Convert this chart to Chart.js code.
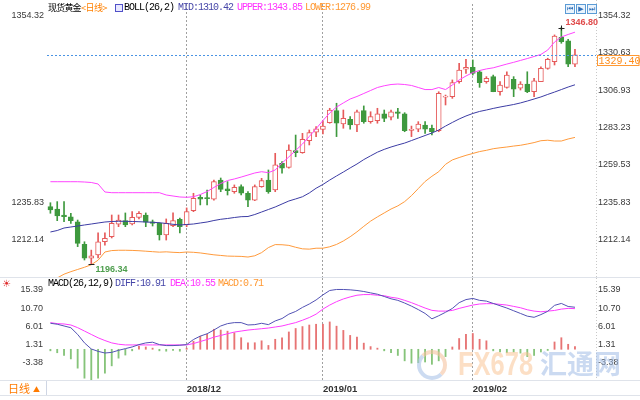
<!DOCTYPE html>
<html><head><meta charset="utf-8">
<script src="https://cdn.jsdelivr.net/npm/chart.js@4.4.1/dist/chart.umd.min.js"></script>
<style>
html,body{margin:0;padding:0;background:#fff;}
#wrap{position:relative;width:640px;height:400px;overflow:hidden;background:#fff;}
canvas{position:absolute;left:0;}
.t{position:absolute;white-space:pre;line-height:12px;}
.mono{font-family:"Liberation Mono","DejaVu Sans Mono",monospace;font-size:10px;letter-spacing:-1px;}
.cjk{font-family:"Noto Sans CJK SC",sans-serif;}
.hl{position:absolute;left:0;width:640px;height:1px;background:#dfe3ea;}
.ib{position:absolute;top:4px;width:8px;height:8px;border:1px solid #5b9bd5;background:#eaf3fc;font-size:7px;line-height:8px;text-align:center;color:#2f6fb8;font-family:"DejaVu Sans",sans-serif;}
</style></head><body>
<div id="wrap">
<canvas id="main" width="640" height="277" style="top:0"></canvas>
<canvas id="macd" width="640" height="122" style="top:278px"></canvas>
<div class="hl" style="top:277px"></div>
<div class="hl" style="top:380px"></div>
<div class="hl" style="top:395px"></div>

<div class="t cjk" style="top:1px;left:48px;font-size:9px;letter-spacing:-0.8px;line-height:13px;color:#000">现货黄金</div>
<div class="t cjk" style="top:1px;left:81px;font-size:9px;letter-spacing:-0.5px;line-height:13px;color:#ff8000">&lt;日线&gt;</div>
<div style="position:absolute;left:115px;top:4px;width:6px;height:6px;border:1px solid #5050c8;background:#e8e8ff"></div>
<div class="t mono" style="top:2px;left:124px;color:#000">BOLL(26,2)</div>
<div class="t mono" id="hMid" style="top:2px;left:178px;color:#4646a8"></div>
<div class="t mono" id="hUp" style="top:2px;left:237px;color:#ff33ff"></div>
<div class="t mono" id="hLow" style="top:2px;left:305px;color:#ff9933"></div>

<div class="ib" style="left:565px">⏮</div>
<div class="ib" style="left:576px">▶</div>
<div class="ib" style="left:587px">⏭</div>

<div class="t" style="top:278px;left:2px;font-size:10px;color:#e03030;font-family:'DejaVu Sans'">☀</div>
<div class="t mono" style="top:278px;left:48px;color:#000">MACD(26,12,9)</div>
<div class="t mono" id="hDiff" style="top:278px;left:115px;color:#4646a8"></div>
<div class="t mono" id="hDea" style="top:278px;left:170px;color:#ff33ff"></div>
<div class="t mono" id="hMacd" style="top:278px;left:218px;color:#ff9933"></div>

<div style="position:absolute;left:0;top:381px;width:46px;height:14px;border-right:1px solid #cfd6e4;"></div>
<div class="t cjk" style="top:381px;left:8px;font-size:11px;line-height:14px;color:#ff7a00">日线<span style="font-size:7px;position:relative;top:-1px;margin-left:3px">▲</span></div>

<div style="position:absolute;left:417px;top:350px;width:22px;height:22px;border-radius:50%;border:4px solid rgba(246,196,160,0.6);border-left-color:rgba(170,196,232,0.6);border-bottom-color:rgba(170,196,232,0.6)"></div>
<div class="t" style="top:343px;left:458px;font:bold 34px 'Liberation Sans',Arial,sans-serif;line-height:40px;color:rgba(250,196,150,0.55);transform:scaleX(0.75);transform-origin:left top">FX678</div>
<div class="t cjk" style="top:344px;left:540px;font-size:27px;font-weight:bold;line-height:38px;color:rgba(160,188,230,0.55)">汇通网</div>
</div>
<script>
const dates = ['2018/11/05','2018/11/06','2018/11/07','2018/11/08','2018/11/09','2018/11/12','2018/11/13','2018/11/14','2018/11/15','2018/11/16','2018/11/19','2018/11/20','2018/11/21','2018/11/22','2018/11/23','2018/11/26','2018/11/27','2018/11/28','2018/11/29','2018/11/30',
'2018/12/03','2018/12/04','2018/12/05','2018/12/06','2018/12/07','2018/12/10','2018/12/11','2018/12/12','2018/12/13','2018/12/14','2018/12/17','2018/12/18','2018/12/19','2018/12/20','2018/12/21','2018/12/24','2018/12/26','2018/12/27','2018/12/28','2018/12/31',
'2019/01/02','2019/01/03','2019/01/04','2019/01/07','2019/01/08','2019/01/09','2019/01/10','2019/01/11','2019/01/14','2019/01/15','2019/01/16','2019/01/17','2019/01/18','2019/01/21','2019/01/22','2019/01/23','2019/01/24','2019/01/25','2019/01/28','2019/01/29','2019/01/30','2019/01/31',
'2019/02/01','2019/02/04','2019/02/05','2019/02/06','2019/02/07','2019/02/08','2019/02/11','2019/02/12','2019/02/13','2019/02/14','2019/02/15','2019/02/18','2019/02/19','2019/02/20','2019/02/21','2019/02/22'];
const emptySlots = ['', ''];

const opens  = [1233.0,1231.5,1227.7,1226.6,1223.4,1209.1,1200.2,1202.3,1210.7,1213.9,1221.8,1224.1,1222.0,1226.2,1227.7,1223.4,1222.4,1215.0,1220.9,1225.0,
1221.4,1230.4,1238.9,1238.5,1237.7,1249.9,1244.4,1242.5,1245.7,1241.5,1237.2,1245.7,1249.9,1243.6,1260.5,1258.0,1268.6,1267.3,1274.9,1280.3,
1282.0,1286.3,1294.0,1285.5,1288.5,1284.9,1294.0,1287.0,1287.6,1291.9,1289.8,1293.3,1291.9,1281.5,1282.2,1284.9,1282.8,1281.3,1302.5,1302.9,1312.4,1320.3,
1321.5,1318.7,1312.4,1315.6,1306.0,1308.8,1313.9,1308.2,1310.9,1306.0,1312.4,1320.9,1325.1,1340.6,1338.4,1323.6];
const highs  = [1235.5,1236.2,1236.2,1228.8,1224.5,1210.7,1205.4,1216.3,1216.3,1227.7,1227.7,1229.0,1229.8,1229.8,1229.0,1224.5,1222.8,1225.2,1229.0,1225.8,
1232.2,1241.5,1240.4,1243.6,1249.9,1251.2,1248.9,1246.8,1246.8,1242.5,1246.8,1251.0,1256.3,1266.9,1261.6,1272.2,1278.5,1279.6,1281.7,1283.8,
1287.6,1295.5,1298.7,1294.4,1290.2,1294.4,1297.0,1293.3,1295.5,1294.4,1294.4,1295.5,1292.7,1284.2,1287.0,1287.0,1284.9,1306.0,1303.9,1313.5,1324.1,1326.6,
1326.2,1319.4,1315.6,1316.6,1312.4,1318.7,1315.6,1312.4,1318.7,1314.6,1321.9,1327.3,1342.1,1346.80,1339.3,1333.0];
const lows   = [1228.8,1224.1,1223.5,1222.4,1207.6,1199.1,1196.34,1200.4,1208.6,1213.1,1220.3,1220.3,1221.4,1225.2,1220.3,1220.7,1211.8,1211.8,1220.3,1216.3,
1220.3,1229.8,1234.1,1234.1,1237.2,1242.5,1240.4,1241.5,1240.4,1233.0,1236.8,1245.3,1241.5,1242.5,1254.2,1257.4,1264.7,1266.9,1272.2,1277.5,
1279.2,1286.0,1277.5,1282.8,1282.2,1280.6,1286.0,1286.0,1286.0,1287.0,1288.1,1289.1,1280.6,1277.5,1280.6,1279.6,1278.5,1280.6,1297.6,1301.8,1311.4,1317.7,
1316.6,1308.8,1311.4,1306.0,1303.9,1308.2,1302.9,1307.1,1305.4,1302.9,1312.4,1320.3,1323.0,1336.8,1321.9,1321.9];
const closes = [1230.9,1227.1,1226.6,1224.1,1209.7,1200.2,1201.7,1210.7,1212.9,1222.4,1224.5,1221.4,1226.2,1228.8,1223.1,1222.4,1215.0,1222.4,1224.1,1220.3,
1229.8,1238.3,1237.7,1238.1,1248.9,1244.0,1243.1,1245.3,1241.5,1237.2,1245.7,1249.5,1242.5,1259.5,1257.4,1269.0,1267.3,1275.8,1280.0,1282.5,
1284.2,1294.4,1286.0,1289.1,1284.9,1293.3,1287.0,1290.2,1291.9,1289.1,1293.3,1292.3,1281.3,1282.2,1285.5,1282.2,1280.6,1305.0,1303.3,1311.8,1319.8,1321.5,
1317.7,1311.8,1314.6,1306.0,1310.3,1316.6,1307.6,1310.9,1306.0,1313.0,1320.9,1326.6,1341.4,1337.8,1323.6,1329.40];

const bollUpper = [1248.85,1248.85,1248.85,1248.85,1248.85,1248.66,1248.35,1247.4,1242.31,1241.87,1241.87,1241.87,1241.87,1241.87,1241.87,1241.87,1241.87,1240.41,1239.77,1239.14,
1238.95,1239.3,1240.7,1242.6,1245.2,1247.7,1249.6,1250.6,1251.8,1253.1,1254.4,1255.2,1254.6,1256.3,1260.7,1264.6,1268.7,1272.8,1277.6,1282.5,
1287.7,1292.5,1296.3,1298.9,1301.4,1303.0,1304.9,1306.8,1308.7,1309.8,1310.6,1310.9,1310.6,1310.0,1308.7,1307.4,1307.4,1308.7,1307.4,1310.3,1313.5,1316.0,
1318.2,1319.5,1320.5,1321.2,1322.4,1323.6,1324.7,1325.9,1327.1,1328.4,1329.7,1332.5,1337.6,1340.8,1342.4,1343.85];
const bollMid = [1216.9,1217.85,1219.44,1220.08,1220.71,1221.35,1221.98,1222.62,1223.25,1223.57,1223.7,1223.7,1223.57,1223.44,1223.25,1223.06,1222.81,1222.3,1221.79,1221.35,
1221.67,1221.98,1222.62,1223.25,1224.2,1224.97,1225.48,1226.11,1226.62,1226.75,1228.0,1229.6,1231.2,1232.8,1234.7,1236.6,1237.9,1239.3,1241.7,1244.7,
1247.1,1249.9,1252.5,1255.0,1257.6,1260.1,1262.9,1265.3,1267.6,1269.4,1270.9,1272.2,1273.4,1275.0,1276.6,1278.2,1279.8,1281.7,1284.2,1286.5,1288.7,1290.6,
1292.2,1293.5,1294.4,1295.4,1296.3,1297.1,1297.9,1298.9,1300.1,1301.4,1302.7,1304.3,1305.8,1307.4,1309.0,1310.42];
const bollLower = [1186.0,1187.7,1190.1,1191.7,1193.1,1194.5,1196.1,1199.0,1204.2,1205.1,1205.3,1205.3,1205.2,1205.0,1204.7,1204.4,1204.1,1204.3,1204.0,1203.8,
1204.2,1204.0,1203.6,1203.0,1202.4,1202.0,1201.6,1201.5,1201.4,1201.0,1201.8,1203.8,1207.0,1208.9,1208.8,1208.4,1207.2,1206.2,1206.0,1206.6,
1206.6,1207.5,1209.0,1211.2,1213.9,1217.0,1220.5,1223.8,1226.5,1229.0,1231.5,1233.5,1236.2,1240.0,1244.5,1249.0,1252.3,1255.2,1259.9,1262.7,1264.2,1265.6,
1266.8,1268.0,1268.8,1269.8,1270.4,1270.9,1271.5,1272.0,1272.8,1273.7,1274.9,1275.2,1274.7,1274.7,1276.0,1276.99];

const macdDiff = [6.75,6.5,6.05,5.6,3.85,1.66,0.08,-0.53,-0.97,-0.8,-0.27,0.17,0.61,1.22,1.66,1.84,1.22,0.96,0.96,1.05,
1.22,2.54,3.42,4.03,5.0,6.05,6.66,6.92,6.92,6.31,6.4,6.75,6.4,7.36,7.98,9.12,9.82,10.87,11.75,12.8,
14.12,15.26,15.52,15.52,15.43,15.26,15.0,14.64,14.29,13.7,13.1,12.7,12.0,11.2,10.3,9.3,7.9,8.7,9.6,10.6,12.1,12.9,
13.2,12.7,12.5,11.9,11.3,10.7,10.0,9.3,8.6,8.3,9.0,9.85,11.4,11.9,11.1,10.91];
const macdDea = [6.92,6.66,6.57,6.31,5.61,4.73,3.85,2.98,2.27,1.66,1.31,1.13,1.13,1.13,1.13,1.13,1.13,1.13,1.13,1.13,
1.13,1.49,2.01,2.54,3.15,3.59,4.03,4.47,4.73,4.99,5.17,5.34,5.52,5.78,6.05,6.49,6.92,7.54,8.24,9.12,
10.43,11.48,12.36,13.06,13.59,14.03,14.2,14.2,14.03,13.9,13.5,13.24,12.7,12.1,11.4,10.7,10.1,9.91,9.91,10.08,10.61,11.05,
11.48,11.75,11.84,11.84,11.66,11.48,11.13,10.78,10.26,9.91,9.73,9.9,10.08,10.43,10.61,10.55];
const macdHist = [-0.4,-0.9,-1.6,-2.5,-4.9,-7.5,-7.9,-7.5,-6.2,-4.3,-2.3,-1.5,-0.4,0.8,0.6,0.3,-0.4,-0.5,-0.3,-0.5,
0.3,2.1,3.4,3.9,5.2,5.0,4.7,4.3,3.0,1.7,1.7,2.2,1.0,2.6,3.0,4.5,5.4,5.9,6.3,6.5,
6.5,7.1,6.0,4.9,3.6,3.2,1.6,0.7,0.3,-0.4,-0.9,-1.6,-3.0,-3.6,-3.5,-3.3,-3.9,-3.0,-1.9,0.6,2.8,3.9,
4.1,2.6,2.2,-0.4,-0.7,-0.9,-0.7,-1.0,-1.9,-1.6,-0.7,-0.3,1.9,3.0,1.3,0.71];

const priceTicksRight = [1354.32,1330.63,1306.93,1283.23,1259.53,1235.83,1212.14];
const priceTicksLeft  = [1354.32,1235.83,1212.14];
const macdTicks = [15.39,10.70,6.01,1.31,-3.38];

// ---------- config ----------
const labels = dates.concat(emptySlots);
const last = closes.length - 1;
const isUp = i => closes[i] >= opens[i];
const RED = '#e65a5a', GREEN = '#3e993e';
const monthStart = labels.map((d, i) => i > 0 && d && labels[i-1] && d.slice(0,7) !== labels[i-1].slice(0,7));
const gridColor = c => monthStart[c.index] ? '#a0a0a0' : 'rgba(0,0,0,0)';
const tickFont = {family:'"Liberation Sans", Arial, sans-serif', size:9};
const fixW = w => s => { s.width = w; s.paddingTop = 0; s.paddingBottom = 0; s.paddingLeft = 0; s.paddingRight = 0; };
const fixH = h => s => { s.height = h; s.paddingTop = 0; s.paddingBottom = 0; s.paddingLeft = 0; s.paddingRight = 0; };
const setTicks = arr => s => { s.ticks = arr.map(v => ({value: v})); };
const noGrid = {display:false, drawTicks:false, tickLength:0};

document.getElementById('hMid').textContent = 'MID:' + bollMid[last].toFixed(2);
document.getElementById('hUp').textContent = 'UPPER:' + bollUpper[last].toFixed(2);
document.getElementById('hLow').textContent = 'LOWER:' + bollLower[last].toFixed(2);
document.getElementById('hDiff').textContent = 'DIFF:' + macdDiff[last].toFixed(2);
document.getElementById('hDea').textContent = 'DEA:' + macdDea[last].toFixed(2);
document.getElementById('hMacd').textContent = 'MACD:' + macdHist[last].toFixed(2);

const lineDs = (data, color) => ({type:'line', data, borderColor:color, borderWidth:1, pointRadius:0, tension:0, order:0, yAxisID:'y', xAxisID:'x'});

const mainAnnot = {
  id:'mainAnnot',
  afterDatasetsDraw(chart){
    const {ctx, chartArea:ca, scales:{x, y}} = chart;
    ctx.save();
    const ly = Math.round(y.getPixelForValue(closes[last])) + 0.5;
    ctx.lineWidth = 1;
    ctx.strokeStyle = '#4a94e4'; ctx.setLineDash([2,2]);
    ctx.beginPath(); ctx.moveTo(ca.left, ly); ctx.lineTo(ca.right + 4, ly); ctx.stroke();
    ctx.strokeStyle = '#c8c8c8'; ctx.setLineDash([1,2]);
    const rb = Math.round(ca.right + 4) + 0.5;
    ctx.beginPath(); ctx.moveTo(rb, 0); ctx.lineTo(rb, chart.height); ctx.stroke();
    ctx.setLineDash([]);
    // last price box
    const bx = Math.round(ca.right + 5) + 0.5;
    ctx.fillStyle = '#fff'; ctx.fillRect(bx, ly, 639 - bx, 10);
    ctx.strokeStyle = '#ff9933'; ctx.strokeRect(bx, ly, 639 - bx, 10);
    ctx.fillStyle = '#ff8c1a'; ctx.font = '10px "Liberation Mono", monospace';
    ctx.textBaseline = 'middle'; ctx.textAlign = 'left';
    ctx.fillText(closes[last].toFixed(2), bx + 1, ly + 5.5);
    // highest high
    const hi = highs.indexOf(Math.max(...highs));
    const hx = Math.round(x.getPixelForValue(hi)) + 0.5, hy = Math.round(y.getPixelForValue(highs[hi])) + 0.5;
    ctx.strokeStyle = '#222';
    ctx.beginPath(); ctx.moveTo(hx - 3, hy); ctx.lineTo(hx + 3, hy); ctx.moveTo(hx, hy - 3); ctx.lineTo(hx, hy + 2); ctx.stroke();
    ctx.fillStyle = '#e04a4a'; ctx.font = 'bold 9px "Liberation Sans", Arial, sans-serif';
    ctx.fillText(highs[hi].toFixed(2), hx + 4, hy - 6);
    // lowest low
    const lo = lows.indexOf(Math.min(...lows));
    const lx = Math.round(x.getPixelForValue(lo)) + 0.5, lyy = Math.round(y.getPixelForValue(lows[lo])) + 0.5;
    ctx.beginPath(); ctx.moveTo(lx - 3, lyy); ctx.lineTo(lx + 3, lyy); ctx.stroke();
    ctx.fillStyle = '#4e9e4e';
    ctx.fillText(lows[lo].toFixed(2), lx + 4, lyy + 5);
    ctx.restore();
  }
};

new Chart(document.getElementById('main'), {
  type:'bar',
  data:{ labels, datasets:[
    lineDs(bollUpper, '#ff44ff'),
    lineDs(bollMid, '#3c3ca4'),
    lineDs(bollLower, '#ff9a3c'),
    {label:'body', data: opens.map((o, i) => [o, closes[i]]), yAxisID:'y', xAxisID:'x',
     backgroundColor: c => isUp(c.dataIndex) ? '#ffffff' : GREEN,
     borderColor: c => isUp(c.dataIndex) ? RED : GREEN,
     borderWidth:1, borderSkipped:false, barThickness:5, minBarLength:1, grouped:false, order:1},
    {label:'wick', data: lows.map((l, i) => [l, highs[i]]), yAxisID:'y', xAxisID:'x',
     backgroundColor: c => isUp(c.dataIndex) ? RED : GREEN,
     borderWidth:0, barThickness:1, grouped:false, order:2}
  ]},
  options:{
    responsive:false, animation:false, devicePixelRatio:1,
    layout:{padding:{top:4, left:0, right:0, bottom:0}, autoPadding:false},
    plugins:{legend:{display:false}, tooltip:{enabled:false}},
    scales:{
      x:{type:'category', offset:true,
         grid:{offset:false, color:gridColor, lineWidth:1, drawTicks:false},
         border:{display:false, dash:[2,2]},
         ticks:{display:false, autoSkip:false}, afterFit:fixH(0)},
      y:{position:'right', min:1188.31, max:1361.75, afterBuildTicks:setTicks(priceTicksRight),
         ticks:{callback:v => v.toFixed(2), font:tickFont, color:'#3a3a3a', padding:6},
         grid:noGrid, border:{display:false}, afterFit:fixW(48)},
      yL:{position:'left', min:1188.31, max:1361.75, afterBuildTicks:setTicks(priceTicksLeft),
         ticks:{callback:v => v.toFixed(2), font:tickFont, color:'#3a3a3a', padding:3},
         grid:noGrid, border:{display:false}, afterFit:fixW(47)}
    }
  },
  plugins:[mainAnnot]
});

const macdAnnot = {
  id:'macdAnnot',
  afterDatasetsDraw(chart){
    const {ctx, chartArea:ca} = chart;
    ctx.save();
    ctx.strokeStyle = '#c8c8c8'; ctx.setLineDash([1,2]); ctx.lineWidth = 1;
    const rb = Math.round(ca.right + 4) + 0.5;
    ctx.beginPath(); ctx.moveTo(rb, 0); ctx.lineTo(rb, ca.bottom); ctx.stroke();
    ctx.restore();
  }
};

new Chart(document.getElementById('macd'), {
  type:'bar',
  data:{ labels, datasets:[
    {type:'line', data:macdDiff, borderColor:'#5252b4', borderWidth:1, pointRadius:0, tension:0, order:0},
    {type:'line', data:macdDea, borderColor:'#ff3cff', borderWidth:1, pointRadius:0, tension:0, order:0},
    {data:macdHist, backgroundColor: c => macdHist[c.dataIndex] >= 0 ? '#e77474' : '#86c47a',
     borderWidth:0, barThickness:1.2, order:1}
  ]},
  options:{
    responsive:false, animation:false, devicePixelRatio:1,
    layout:{padding:0, autoPadding:false},
    plugins:{legend:{display:false}, tooltip:{enabled:false}},
    scales:{
      x:{type:'category', offset:true,
         grid:{offset:false, color:gridColor, lineWidth:1, drawTicks:false},
         border:{display:false, dash:[2,2]},
         ticks:{autoSkip:false, maxRotation:0, minRotation:0, align:'start', padding:4, color:'#333',
                font:{family:'"Liberation Sans", Arial, sans-serif', size:9.5, weight:'bold'},
                callback:(v, i) => monthStart[i] ? labels[i].slice(0,7) : ''},
         afterFit:fixH(20)},
      y:{position:'right', min:-7.97, max:18.5, afterBuildTicks:setTicks(macdTicks),
         ticks:{callback:v => v.toFixed(2), font:tickFont, color:'#3a3a3a', padding:6},
         grid:noGrid, border:{display:false}, afterFit:fixW(48)},
      yL:{position:'left', min:-7.97, max:18.5, afterBuildTicks:setTicks(macdTicks),
         ticks:{callback:v => v.toFixed(2), font:tickFont, color:'#3a3a3a', padding:4},
         grid:noGrid, border:{display:false}, afterFit:fixW(47)}
    }
  },
  plugins:[macdAnnot]
});
</script>
</body></html>
